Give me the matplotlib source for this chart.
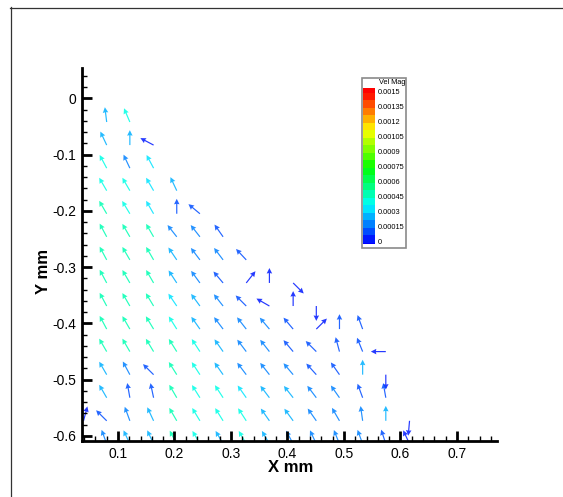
import numpy as np
import matplotlib
matplotlib.use("Agg")
import matplotlib.pyplot as plt
from matplotlib.colors import LinearSegmentedColormap, ListedColormap, BoundaryNorm
from matplotlib.ticker import MultipleLocator, FuncFormatter
from matplotlib.lines import Line2D
from matplotlib.patches import Rectangle

plt.rcParams['font.family'] = ['Liberation Sans', 'DejaVu Sans']
plt.rcParams['axes.unicode_minus'] = False

# Measurement grid (mm): node columns and rows
X_NODES = [0.039, 0.080, 0.121, 0.163, 0.204, 0.245, 0.286, 0.327,
           0.368, 0.410, 0.451, 0.492, 0.533, 0.574, 0.616]
Y_NODES = [-0.042, -0.083, -0.124, -0.164, -0.205, -0.246, -0.287, -0.328,
           -0.369, -0.410, -0.450, -0.491, -0.532, -0.573, -0.614]

N = None
# Flow direction at each node (degrees from +x), None where there is no data
VEL_ANGLE = [
    [N, 97, 113, N, N, N, N, N, N, N, N, N, N, N, N],
    [N, 115, 90, 152, N, N, N, N, N, N, N, N, N, N, N],
    [N, 118, 115, 118, N, N, N, N, N, N, N, N, N, N, N],
    [N, 120, 120, 120, 115, N, N, N, N, N, N, N, N, N, N],
    [N, 120, 121, 120, 90, 140, N, N, N, N, N, N, N, N, N],
    [N, 118, 120, 120, 128, 128, 125, N, N, N, N, N, N, N, N],
    [N, 118, 120, 120, 124, 127, 127, 133, N, N, N, N, N, N, N],
    [N, 118, 120, 120, 123, 126, 130, 52, 90, -45, N, N, N, N, N],
    [N, 118, 120, 121, 124, 126, 128, 135, 150, 90, -90, N, N, N, N],
    [N, 118, 120, 121, 122, 125, 127, 128, 130, 130, 45, 90, 110, N, N],
    [N, 120, 120, 121, 122, 123, 125, 127, 128, 130, 135, 105, 112, 180, N],
    [N, 120, 118, 135, 122, 123, 125, 127, 128, 130, 132, 125, 90, -90, N],
    [N, 120, 100, 102, 120, 122, 123, 125, 127, 128, 127, 125, 110, 100, N],
    [75, 135, 110, 115, 120, 121, 122, 123, 125, 126, 125, 120, 98, 90, -95],
    [N, 110, 115, 115, 118, 120, 120, 120, 120, 118, 115, 112, 110, 108, 115],
]

# Velocity magnitude at each node
VEL_MAG = [
    [N, .00028, .00040, N, N, N, N, N, N, N, N, N, N, N, N],
    [N, .00028, .00028, .00006, N, N, N, N, N, N, N, N, N, N, N],
    [N, .00040, .00018, .00036, N, N, N, N, N, N, N, N, N, N, N],
    [N, .00042, .00038, .00034, .00027, N, N, N, N, N, N, N, N, N, N],
    [N, .00046, .00042, .00034, .00015, .00008, N, N, N, N, N, N, N, N, N],
    [N, .00048, .00048, .00046, .00018, .00016, .00014, N, N, N, N, N, N, N, N],
    [N, .00048, .00048, .00046, .00030, .00020, .00019, .00009, N, N, N, N, N, N, N],
    [N, .00048, .00048, .00046, .00030, .00020, .00011, .00007, .00006, .00004, N, N, N, N, N],
    [N, .00048, .00048, .00046, .00031, .00025, .00018, .00011, .00006, .00005, .00004, N, N, N, N],
    [N, .00048, .00048, .00046, .00038, .00028, .00022, .00018, .00016, .00014, .00006, .00010, .00010, N, N],
    [N, .00048, .00048, .00047, .00046, .00038, .00028, .00020, .00017, .00015, .00008, .00012, .00012, .00006, N],
    [N, .00030, .00022, .00008, .00048, .00040, .00030, .00022, .00018, .00016, .00013, .00008, .00024, .00005, N],
    [N, .00024, .00008, .00010, .00048, .00044, .00038, .00034, .00026, .00024, .00017, .00016, .00014, .00008, N],
    [.00006, .00008, .00018, .00026, .00048, .00042, .00040, .00038, .00028, .00026, .00017, .00016, .00016, .00026, .00005],
    [N, .00016, .00024, .00026, .00046, .00040, .00030, .00038, .00028, .00018, .00016, .00016, .00016, .00015, .00006],
]

VMAX = 0.0015
LEVELS = np.linspace(0.0, VMAX, 21)
CBAR_TICKS = [0, 0.00015, 0.0003, 0.00045, 0.0006, 0.00075,
              0.0009, 0.00105, 0.0012, 0.00135, 0.0015]
CBAR_LABELS = ['0', '0.00015', '0.0003', '0.00045', '0.0006', '0.00075',
               '0.0009', '0.00105', '0.0012', '0.00135', '0.0015']

ARROW_LEN = 0.0265  # uniform vector length in mm

W, H = 563, 497
fig = plt.figure(figsize=(W / 100, H / 100), dpi=100)


def fx(px):
    return px / W


def fy(py):
    return 1 - py / H


# Banded rainbow colour map: blue - cyan - green - yellow - red
base = LinearSegmentedColormap.from_list(
    'small_rainbow',
    [(0.0, '#0000ff'), (0.25, '#00ffff'), (0.5, '#00ff00'),
     (0.75, '#ffff00'), (1.0, '#ff0000')])
mids = 0.5 * (LEVELS[:-1] + LEVELS[1:]) / VMAX
band_cmap = ListedColormap(base(mids))
band_cmap.set_under(base(0.0))
band_cmap.set_over(base(1.0))
norm = BoundaryNorm(LEVELS, band_cmap.N)

# Collect vectors
xs, ys, us, vs, cs = [], [], [], [], []
for r, yv in enumerate(Y_NODES):
    for c, xv in enumerate(X_NODES):
        a = VEL_ANGLE[r][c]
        m = VEL_MAG[r][c]
        if a is None:
            continue
        t = np.deg2rad(a)
        xs.append(xv)
        ys.append(yv)
        us.append(ARROW_LEN * np.cos(t))
        vs.append(ARROW_LEN * np.sin(t))
        cs.append(m)

ax = fig.add_axes([fx(82), fy(441), fx(497) - fx(82), fy(68) - fy(441)])
ax.quiver(xs, ys, us, vs, cs, cmap=band_cmap, norm=norm,
          angles='xy', scale_units='xy', scale=1,
          units='dots', width=1.2, headwidth=4.6, headlength=4.6,
          headaxislength=4.2, pivot='tail', alpha=0.85)

ax.set_xlim(0.0363, 0.7708)
ax.set_ylim(-0.6089, 0.054)

for side in ('top', 'right'):
    ax.spines[side].set_visible(False)
for side in ('left', 'bottom'):
    ax.spines[side].set_linewidth(2)

ax.xaxis.set_major_locator(MultipleLocator(0.1))
ax.xaxis.set_minor_locator(MultipleLocator(0.02))
ax.yaxis.set_major_locator(MultipleLocator(0.1))
ax.yaxis.set_minor_locator(MultipleLocator(0.02))
fmt = FuncFormatter(lambda v, p: '0' if abs(v) < 1e-9 else f'{v:.1f}')
ax.xaxis.set_major_formatter(fmt)
ax.yaxis.set_major_formatter(fmt)
ax.tick_params(which='major', direction='in', length=7, width=2,
               labelsize=10, pad=4)
ax.tick_params(which='minor', direction='in', length=3.5, width=1)

fig.text(fx(291), fy(468), 'X mm', ha='center', va='center',
         fontsize=12, fontweight='bold')
fig.text(fx(43), fy(272), 'Y mm', ha='center', va='center',
         fontsize=12, fontweight='bold', rotation=90)

# Colour legend
cax = fig.add_axes([fx(363), fy(244), fx(375) - fx(363), fy(88) - fy(244)])
edges = np.concatenate(([-0.000015], LEVELS, [0.00155]))
vals = np.concatenate(([-1e-6], 0.5 * (LEVELS[:-1] + LEVELS[1:]), [VMAX + 1e-6]))
cax.pcolormesh([0, 1], edges, vals.reshape(-1, 1), cmap=band_cmap, norm=norm)
cax.set_xlim(0, 1)
cax.set_ylim(edges[0], edges[-1])
cax.axis('off')

fig.patches.append(Rectangle((fx(362), fy(248)), fx(406) - fx(362),
                             fy(78) - fy(248), transform=fig.transFigure,
                             fill=False, edgecolor='#8a8a8a', lw=1.2))
fig.text(fx(392), fy(82.5), 'Vel Mag', ha='center', va='center', fontsize=5.3)
for v, lab in zip(CBAR_TICKS, CBAR_LABELS):
    py = 242.5 - v * (149.5 / VMAX)
    fig.text(fx(378), fy(py), lab, ha='left', va='center', fontsize=5.3)

# Page frame and partly visible panel tag
fig.lines.append(Line2D([fx(10.5), fx(10.5)], [fy(7), 0], transform=fig.transFigure,
                        color='#333333', lw=0.9))
fig.lines.append(Line2D([fx(10), 1], [fy(7.5), fy(7.5)], transform=fig.transFigure,
                        color='#333333', lw=0.9))
fig.text(fx(267), fy(-2.5), '(a)', ha='center', va='baseline', fontsize=12)

fig.savefig('out.png', dpi=100)
